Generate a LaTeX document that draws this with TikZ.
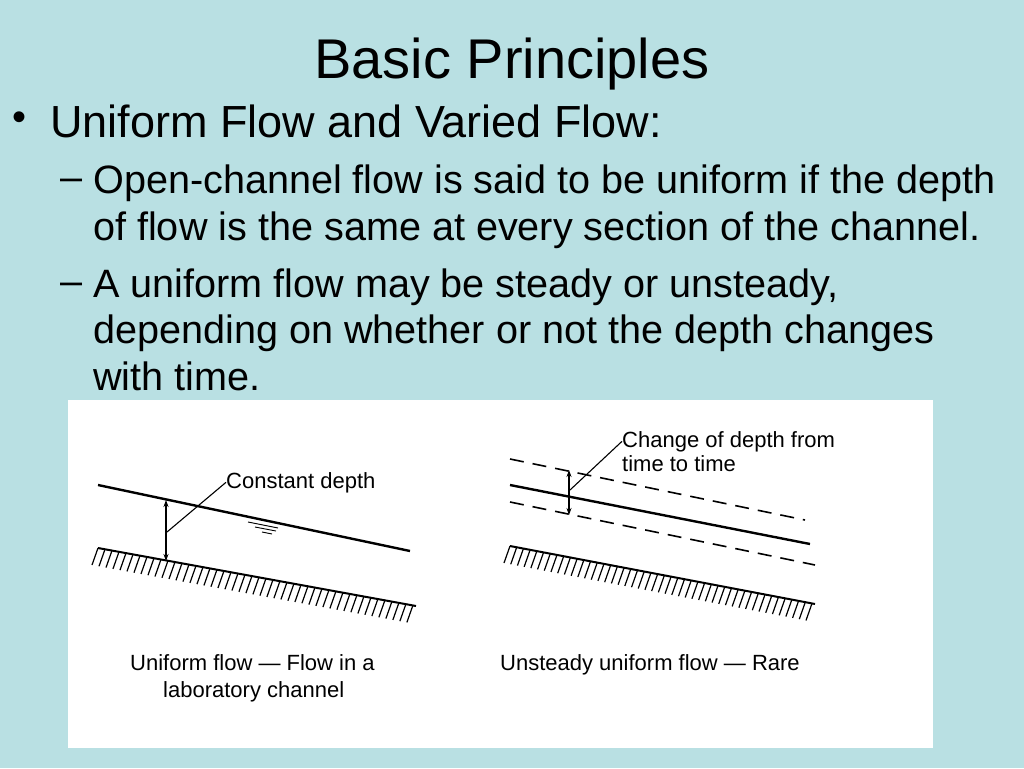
\documentclass[tikz,border=0pt]{standalone}
\usepackage{fontspec}
\setmainfont{Liberation Sans}
\usetikzlibrary{arrows.meta, positioning, calc}
\definecolor{slidebg}{HTML}{B9E0E3}
\tikzset{
  slidetext/.style={anchor=base west, inner sep=0pt, font=\fontsize{39.6}{46}\selectfont},
  figlabel/.style={anchor=base west, inner sep=0pt, font=\fontsize{22}{26}\selectfont},
  surface/.style={line width=2.4pt},
  dashsurf/.style={line width=1.6pt, dash pattern=on 14pt off 9pt},
  bed/.style={line width=2pt},
  hatch/.style={line width=1.2pt},
  depth/.style={line width=1.1pt, {Stealth[length=7pt, width=5pt]}-{Stealth[length=7pt, width=5pt]}},
  leader/.style={line width=1.1pt}
}
\begin{document}
\begin{tikzpicture}[x=1pt, y=-1pt]
    % slide background
    \fill[slidebg] (0,0) rectangle (1024,768);
    \useasboundingbox (0,0) rectangle (1024,768);

    % title and bullets
    \node[inner sep=0pt, font=\fontsize{56}{64}\selectfont, anchor=base] (title) at (512,78) {Basic Principles};
    \node[inner sep=0pt, font=\fontsize{40}{46}\selectfont, anchor=base west] (dot) at (12,130) {•};
    \node[inner sep=0pt, font=\fontsize{45}{52}\selectfont, anchor=base west] (head) at (50,137) {Uniform Flow and Varied Flow:};
    \node[slidetext] (dash1) at (60,190) {–};
    \node[slidetext] (l1) at (93,193) {Open-channel flow is said to be uniform if the depth};
    \node[slidetext] (l2) at (93,240) {of flow is the same at every section of the channel.};
    \node[slidetext] (dash2) at (60,294) {–};
    \node[slidetext] (l3) at (93,297) {A uniform flow may be steady or unsteady,};
    \node[slidetext] (l4) at (93,343) {depending on whether or not the depth changes};
    \node[slidetext] (l5) at (93,390) {with time.};

    % figure panel
    \fill[white] (68,400) rectangle (933,748);

    % left sketch: constant depth
    \coordinate (ws1) at (98,485);
    \coordinate (we1) at (410,551);
    \coordinate (bs1) at (98,548);
    \coordinate (be1) at (416,606);
    \draw[surface] (ws1) -- (we1);
    \draw[bed] (bs1) -- (be1);
    \foreach \t in {0,0.022,...,1.0}
        \draw[hatch] ($(bs1)!\t!(be1)$) -- ++(-6,17);
    \coordinate (at1) at (166,500);
    \coordinate (ab1) at (166,561);
    \draw[depth] (at1) -- (ab1);
    \coordinate (lk1) at (167,532);
    \node[figlabel] (cdepth) at (226,488) {Constant depth};
    \draw[leader] (lk1) -- (cdepth.west);
    % water level mark
    \draw[line width=0.9pt] (248,522) -- (278,528) (255,527) -- (276,531) (262,532) -- (272,534);

    % right sketch: varying depth
    \coordinate (du) at (510,459);
    \coordinate (dv) at (805,520);
    \coordinate (ws2) at (510,485);
    \coordinate (we2) at (810,544);
    \coordinate (dl) at (510,502);
    \coordinate (dm) at (815,565);
    \coordinate (bs2) at (510,546);
    \coordinate (be2) at (815,604);
    \draw[dashsurf] (du) -- (dv);
    \draw[surface] (ws2) -- (we2);
    \draw[dashsurf] (dl) -- (dm);
    \draw[bed] (bs2) -- (be2);
    \foreach \t in {0,0.022,...,1.0}
        \draw[hatch] ($(bs2)!\t!(be2)$) -- ++(-6,17);
    \coordinate (at2) at (569,470);
    \coordinate (ab2) at (569,515);
    \draw[depth] (at2) -- (ab2);
    \coordinate (lk2) at (570,490);
    \node[figlabel] (change) at (622,447) {Change of depth from};
    \node[figlabel] (change2) at (622,471) {time to time};
    \draw[leader] (lk2) -- (change.west);

    % captions
    \node[figlabel] (cap1) at (130,670) {Uniform flow — Flow in a};
    \node[figlabel] (cap1b) at (163,697) {laboratory channel};
    \node[figlabel] (cap2) at (500,670) {Unsteady uniform flow — Rare};
\end{tikzpicture}
\end{document}
